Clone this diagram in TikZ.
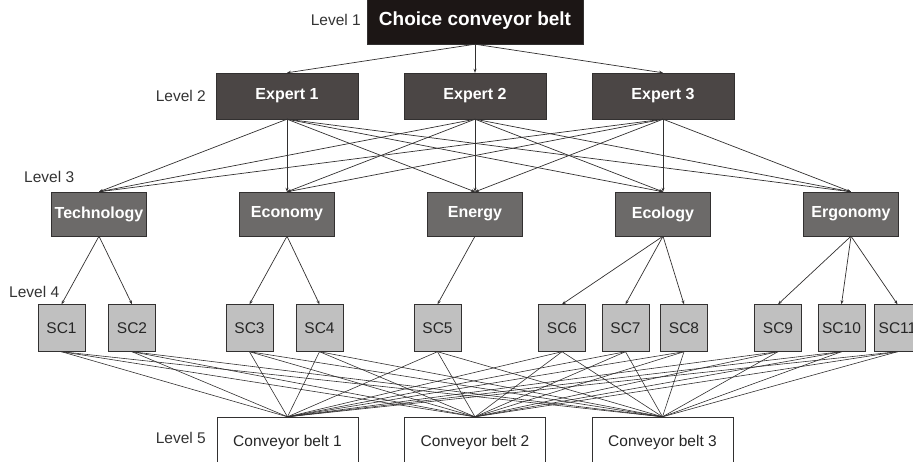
\documentclass[tikz,border=0pt]{standalone}
\usepackage{fontspec}
\setmainfont{Liberation Sans}
\usetikzlibrary{arrows.meta}

\definecolor{lvlone}{RGB}{28,22,21}
\definecolor{lvltwo}{RGB}{75,70,69}
\definecolor{lvlthree}{RGB}{108,106,105}
\definecolor{lvlfour}{RGB}{192,192,192}
\definecolor{edge}{RGB}{50,48,48}

\begin{document}
\begin{tikzpicture}[x=1pt, y=-1pt,
  every node/.style={font=\fontsize{15.5}{18}\selectfont, inner sep=0pt},
  goal/.style={draw=edge, fill=lvlone, text=white, minimum width=216pt,
               minimum height=46pt, font=\fontsize{19}{22}\selectfont\bfseries},
  expert/.style={draw=edge, fill=lvltwo, text=white, minimum width=142pt,
                 minimum height=46pt, font=\fontsize{16}{19}\selectfont\bfseries},
  crit/.style={draw=edge, fill=lvlthree, text=white, minimum width=95pt,
               minimum height=44pt, font=\fontsize{16}{19}\selectfont\bfseries},
  sub/.style={draw=edge, fill=lvlfour, text=black!85, minimum width=47pt,
              minimum height=47pt},
  alt/.style={draw=edge, fill=white, text=black!85, minimum width=141pt,
              minimum height=50pt},
  lvl/.style={text=black!80},
  ar/.style={-{Stealth[length=4pt,width=3pt]}, line width=0.7pt, draw=edge},
  ln/.style={line width=0.6pt, draw=edge}]

\clip (0,0) rectangle (913,461);

%% --- Level 1 ---
\node[goal] (CH) at (475,21) {Choice conveyor belt};

%% --- Level 2 ---
\node[expert] (E1) at (287,96) {Expert 1};
\node[expert] (E2) at (475,96) {Expert 2};
\node[expert] (E3) at (663,96) {Expert 3};

%% --- Level 3 ---
\node[crit] (TEC) at ( 99,214) {Technology};
\node[crit] (ECO) at (287,214) {Economy};
\node[crit] (ENE) at (475,214) {Energy};
\node[crit] (ECL) at (663,214) {Ecology};
\node[crit] (ERG) at (851,214) {Ergonomy};

%% --- Level 4 ---
\node[sub] (SC1)  at ( 61.5,328) {SC1};
\node[sub] (SC2)  at (132.0,328) {SC2};
\node[sub] (SC3)  at (249.5,328) {SC3};
\node[sub] (SC4)  at (319.5,328) {SC4};
\node[sub] (SC5)  at (437.5,328) {SC5};
\node[sub] (SC6)  at (562.0,328) {SC6};
\node[sub] (SC7)  at (625.5,328) {SC7};
\node[sub] (SC8)  at (684.0,328) {SC8};
\node[sub] (SC9)  at (778.0,328) {SC9};
\node[sub] (SC10) at (841.5,328) {SC10};
\node[sub] (SC11) at (897.5,328) {SC11};

%% --- Level 5 ---
\node[alt] (CB1) at (287.5,442) {Conveyor belt 1};
\node[alt] (CB2) at (475.0,442) {Conveyor belt 2};
\node[alt] (CB3) at (662.5,442) {Conveyor belt 3};

%% --- Level labels ---
\node[lvl, anchor=east] (L1) at (361,20)  {Level 1};
\node[lvl, anchor=east] (L2) at (206,96)  {Level 2};
\node[lvl, anchor=west] (L3) at (24,177)  {Level 3};
\node[lvl, anchor=west] (L4) at (9,292)   {Level 4};
\node[lvl, anchor=east] (L5) at (206,438) {Level 5};

%% --- Arrows: goal to experts ---
\foreach \e in {E1,E2,E3}
  \draw[ar] (CH.south) -- (\e.north);

%% --- Arrows: experts to criteria ---
\foreach \e in {E1,E2,E3}
  \foreach \c in {TEC,ECO,ENE,ECL,ERG}
    \draw[ar] (\e.south) -- (\c.north);

%% --- Arrows: criteria to sub-criteria ---
\foreach \c/\s in {TEC/SC1, TEC/SC2, ECO/SC3, ECO/SC4, ENE/SC5,
                   ECL/SC6, ECL/SC7, ECL/SC8, ERG/SC9, ERG/SC10, ERG/SC11}
  \draw[ar] (\c.south) -- (\s.north);

%% --- Lines: sub-criteria to conveyor belts ---
\foreach \s in {SC1,SC2,SC3,SC4,SC5,SC6,SC7,SC8,SC9,SC10,SC11}
  \foreach \b in {CB1,CB2,CB3}
    \draw[ln] (\s.south) -- (\b.north);
\end{tikzpicture}
\end{document}
